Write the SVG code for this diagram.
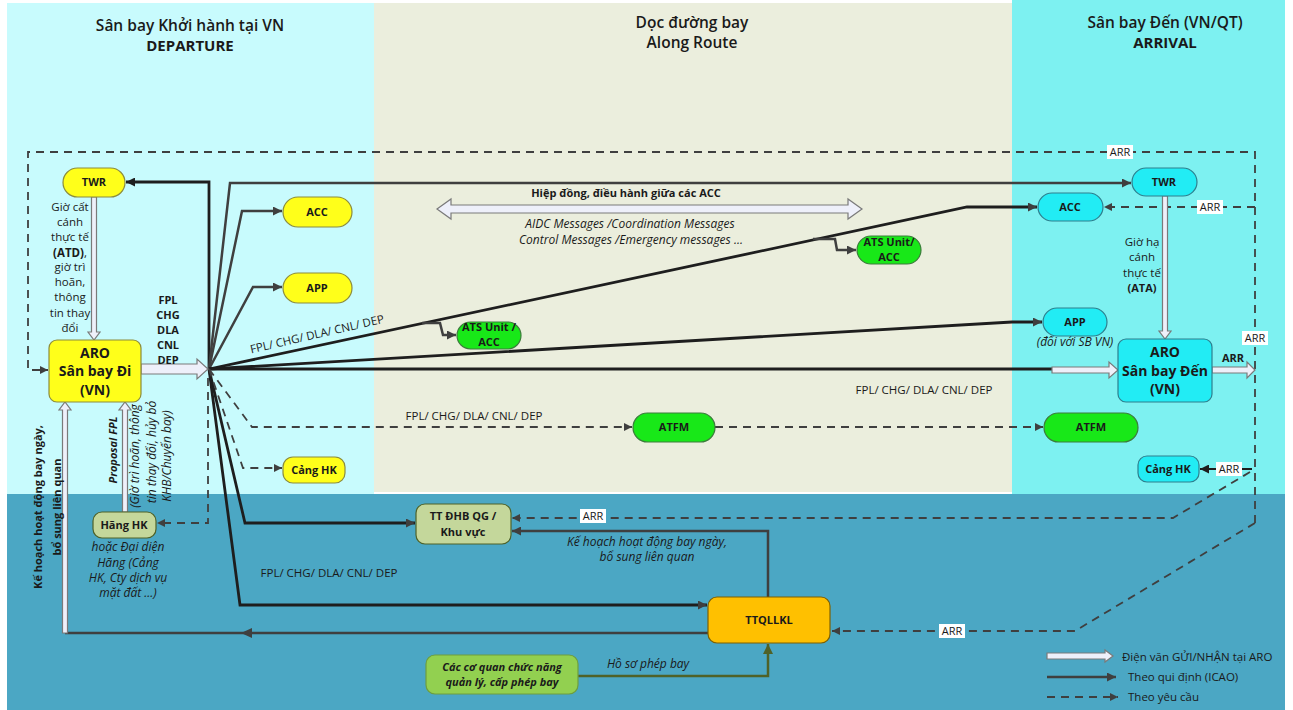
<svg xmlns="http://www.w3.org/2000/svg" width="1293" height="710" viewBox="0 0 1293 710">
<defs>
<style>
text{font-family:"Open Sans","Noto Sans","DejaVu Sans",sans-serif;fill:#1a1a1a}
.h{font-size:15.5px;font-weight:600;text-anchor:middle}
.hb{font-size:15px;font-weight:700;text-anchor:middle}
.nt{font-size:11px;font-weight:700;text-anchor:middle}
.big{font-size:14px;font-weight:700;text-anchor:middle}
.lbl{font-size:11.5px;text-anchor:middle}
.it{font-size:12px;font-style:italic;text-anchor:middle}
.arr{font-size:11px;text-anchor:middle}
.y{fill:#FFFF1A;stroke:#8C8C3C;stroke-width:1.2}
.c{fill:#22ECF4;stroke:#2E7F8E;stroke-width:1.2}
.gr{fill:#18E818;stroke:#3C7C3C;stroke-width:1.2}
.ol{fill:#C4D79B;stroke:#4F6228;stroke-width:1.2}
.s{fill:none;stroke:#1e1e1e;stroke-width:2.8}
.g{fill:none;stroke:#3f3f3f;stroke-width:2.5}
.d{fill:none;stroke:#3f3f3f;stroke-width:1.8;stroke-dasharray:8 6}
.ho{fill:#EEF0FA;stroke:#7a7a7a;stroke-width:1.2}
.wb{fill:#ffffff}
</style>
<marker id="ab" viewBox="0 0 10 10" refX="10" refY="5" markerWidth="10" markerHeight="9" markerUnits="userSpaceOnUse" orient="auto"><path d="M0,0 L10,5 L0,10 z" fill="#1e1e1e"/></marker>
<marker id="ag" viewBox="0 0 10 10" refX="10" refY="5" markerWidth="10" markerHeight="9" markerUnits="userSpaceOnUse" orient="auto"><path d="M0,0 L10,5 L0,10 z" fill="#3f3f3f"/></marker>
<marker id="ad" viewBox="0 0 10 10" refX="10" refY="5" markerWidth="9" markerHeight="8" markerUnits="userSpaceOnUse" orient="auto"><path d="M0,0 L10,5 L0,10 z" fill="#3f3f3f"/></marker>
<marker id="agr" viewBox="0 0 10 10" refX="10" refY="5" markerWidth="10" markerHeight="10" markerUnits="userSpaceOnUse" orient="auto"><path d="M0,0 L10,5 L0,10 z" fill="#4F6228"/></marker>
</defs>

<g id="background">
<rect x="7" y="3" width="367" height="491" fill="#C8FBFD"/>
<rect x="374" y="3" width="638" height="489" fill="#EBEEDD"/>
<rect x="1012" y="0" width="273" height="494" fill="#7DF1F1"/>
<rect x="7" y="494" width="1278" height="216" fill="#4BA7C4"/>
<text class="h" x="190" y="31">Sân bay Khởi hành tại VN</text>
<text class="hb" x="190" y="51">DEPARTURE</text>
<text class="h" x="692" y="28">Dọc đường bay</text>
<text class="h" x="692" y="48">Along Route</text>
<text class="h" x="1165" y="28">Sân bay Đến (VN/QT)</text>
<text class="hb" x="1165" y="48">ARRIVAL</text>
</g>

<g id="connectors">
<!-- hub fan, solid -->
<path class="s" d="M209,369 V182 H126" marker-end="url(#ab)"/>
<path class="g" d="M209,369 L230,183 H1131" marker-end="url(#ag)"/>
<path class="g" d="M209,369 L242,211 H282" marker-end="url(#ag)"/>
<path class="g" d="M209,369 L253,287 H282" marker-end="url(#ag)"/>
<path class="s" d="M209,369 L967,207 H1037" marker-end="url(#ag)"/>
<path class="g" d="M422,323 H440 L443,335 H456" marker-end="url(#ag)"/>
<path class="g" d="M813,239 H835 L837,250 H856" marker-end="url(#ag)"/>
<path class="s" d="M209,369 L1012,322 H1042" marker-end="url(#ag)"/>
<path class="s" d="M209,369 H1053"/>
<path class="s" d="M209,369 L245,523 H415" marker-end="url(#ag)"/>
<path class="s" d="M209,369 L240,605 H707" marker-end="url(#ag)"/>
<!-- hub fan, dashed -->
<path class="d" d="M209,369 L252,427 H632" marker-end="url(#ad)"/>
<path class="d" d="M715,427 H1043" marker-end="url(#ad)"/>
<path class="d" d="M209,369 L243,468 H282" marker-end="url(#ad)"/>
<path class="d" d="M208,378 V523 H157" marker-end="url(#ad)"/>
<!-- bottom flows -->
<path class="g" d="M708,633 H65"/>
<path d="M241,633 L252,628 L252,638 z" fill="#3f3f3f"/>
<path class="g" d="M768,597 V531 H512" marker-end="url(#ag)"/>
<path fill="none" stroke="#4F6228" stroke-width="2.5" d="M578,676 H768 V644" marker-end="url(#agr)"/>
<!-- ARR dashed network -->
<path class="d" d="M1255,523 V152 H28 V370 H48" marker-end="url(#ad)"/>
<path class="d" d="M1255,207 H1104" marker-end="url(#ad)"/>
<path class="d" d="M1255,523 L1075,631 H832" marker-end="url(#ad)"/>
<path fill="none" stroke="#1e1e1e" stroke-width="1.8" d="M1252,469 H1200" marker-end="url(#ab)"/>
<path class="d" d="M1250,472 L1173,518 H512" marker-end="url(#ad)"/>
<!-- hollow arrows -->
<path class="ho" d="M141,364 H197 V359 L208,369 L197,379 V374 H141 z"/>
<path class="ho" d="M91.5,197 H96.5 V332 H100 L94,340 L88,332 H91.5 z"/>
<path class="ho" d="M122.5,512 H127.5 V410 H131 L125,402 L119,410 H122.5 z"/>
<path class="ho" d="M62.5,633 H67.5 V410 H71 L65,402 L59,410 H62.5 z"/>
<path class="ho" d="M1162.5,196 H1167.5 V331 H1171 L1165,339 L1159,331 H1162.5 z"/>
<path class="ho" d="M1052,367 H1109 V362 L1118,370 L1109,378 V373 H1052 z"/>
<path class="ho" d="M1212,367 H1247 V362 L1255,370 L1247,378 V373 H1212 z"/>
<path class="ho" d="M437,209 L451,199 V205 H848 V199 L862,209 L848,219 V213 H451 V219 z"/>
<!-- ARR labels -->
<rect class="wb" x="1107" y="145" width="26" height="14"/><text class="arr" x="1120" y="156">ARR</text>
<rect class="wb" x="1197" y="200" width="26" height="14"/><text class="arr" x="1210" y="211">ARR</text>
<rect class="wb" x="1242" y="331" width="26" height="14"/><text class="arr" x="1255" y="342">ARR</text>
<rect class="wb" x="1216" y="462" width="26" height="14"/><text class="arr" x="1229" y="473">ARR</text>
<rect class="wb" x="580" y="509" width="26" height="14"/><text class="arr" x="593" y="520">ARR</text>
<rect class="wb" x="939" y="624" width="26" height="14"/><text class="arr" x="952" y="635">ARR</text>
<text class="nt" x="1233" y="362">ARR</text>
<!-- connector labels -->
<text class="nt" x="168" y="304">FPL</text>
<text class="nt" x="168" y="319">CHG</text>
<text class="nt" x="168" y="334">DLA</text>
<text class="nt" x="168" y="349">CNL</text>
<text class="nt" x="168" y="364">DEP</text>
<text class="lbl" x="70" y="211">Giờ cất</text>
<text class="lbl" x="70" y="226">cánh</text>
<text class="lbl" x="70" y="241">thực tế</text>
<text class="lbl" x="70" y="257"><tspan font-weight="700">(ATD)</tspan>,</text>
<text class="lbl" x="70" y="271">giờ trì</text>
<text class="lbl" x="70" y="286">hoãn,</text>
<text class="lbl" x="70" y="301">thông</text>
<text class="lbl" x="70" y="317">tin thay</text>
<text class="lbl" x="70" y="332">đổi</text>
<text class="lbl" x="1142" y="246">Giờ hạ</text>
<text class="lbl" x="1142" y="261">cánh</text>
<text class="lbl" x="1142" y="277">thực tế</text>
<text class="nt" font-size="11.5" x="1142" y="292">(ATA)</text>
<text class="lbl" font-size="12" transform="translate(318,338) rotate(-13)">FPL/ CHG/ DLA/ CNL/ DEP</text>
<text class="lbl" font-size="12" x="474" y="420">FPL/ CHG/ DLA/ CNL/ DEP</text>
<text class="lbl" font-size="12" x="329" y="577">FPL/ CHG/ DLA/ CNL/ DEP</text>
<text class="lbl" font-size="12" x="924" y="394">FPL/ CHG/ DLA/ CNL/ DEP</text>
<text class="nt" x="626" y="197">Hiệp đồng, điều hành giữa các ACC</text>
<text class="it" font-size="13" x="630" y="228">AIDC Messages /Coordination Messages</text>
<text class="it" font-size="13" x="631" y="244">Control Messages /Emergency messages ...</text>
<text class="it" font-size="9.5" x="1075" y="346">(đối với SB VN)</text>
<text class="it" x="647" y="546">Kế hoạch hoạt động bay ngày,</text>
<text class="it" x="647" y="561">bổ sung liên quan</text>
<text class="it" x="648" y="668">Hồ sơ phép bay</text>
<text class="nt" font-size="10.5" transform="translate(42,507) rotate(-90)">Kế hoạch hoạt động bay ngày,</text>
<text class="nt" font-size="10.5" transform="translate(61,507) rotate(-90)">bổ sung liên quan</text>
<text class="nt" font-size="10.5" font-style="italic" transform="translate(117,450) rotate(-90)">Proposal FPL</text>
<text class="it" font-size="11" transform="translate(139,456) rotate(-90)">(Giờ trì hoãn, thông</text>
<text class="it" font-size="11" transform="translate(156,452) rotate(-90)">tin thay đổi, hủy bỏ</text>
<text class="it" font-size="11" transform="translate(171,456) rotate(-90)">KHB/Chuyến bay)</text>
<text class="it" x="128" y="551">hoặc Đại diện</text>
<text class="it" x="128" y="567">Hãng (Cảng</text>
<text class="it" x="128" y="582">HK, Cty dịch vụ</text>
<text class="it" x="128" y="597">mặt đất ...)</text>
</g>

<g id="n-twr-dep"><rect class="y" x="63" y="168" width="62" height="29" rx="14.5"/><text class="nt" x="94" y="186">TWR</text></g>
<g id="n-acc-dep"><rect class="y" x="283" y="197" width="69" height="30" rx="15"/><text class="nt" x="317" y="216">ACC</text></g>
<g id="n-app-dep"><rect class="y" x="283" y="273" width="69" height="30" rx="15"/><text class="nt" x="317" y="292">APP</text></g>
<g id="n-cang-dep"><rect class="y" x="283" y="457" width="62" height="26" rx="10"/><text class="nt" x="314" y="474">Cảng HK</text></g>
<g id="n-aro-dep"><rect class="y" x="49" y="340" width="92" height="62" rx="8"/><text class="big" x="95" y="358">ARO</text><text class="big" x="95" y="376">Sân bay Đi</text><text class="big" x="95" y="395">(VN)</text></g>
<g id="n-hang"><rect class="ol" x="93" y="512" width="63" height="26" rx="9"/><text class="nt" x="124" y="529">Hãng HK</text></g>
<g id="n-ttdhb"><rect class="ol" x="416" y="504" width="95" height="40" rx="9"/><text class="nt" font-size="12" x="463" y="520">TT ĐHB QG /</text><text class="nt" font-size="12" x="463" y="536">Khu vực</text></g>
<g id="n-ttqllkl"><rect x="708" y="597" width="122" height="46" rx="9" fill="#FFC000" stroke="#7F6000" stroke-width="1.2"/><text class="nt" x="769" y="624">TTQLLKL</text></g>
<g id="n-coquan"><rect x="426" y="655" width="152" height="39" rx="9" fill="#92D050" stroke="#6E9E3E" stroke-width="1.2"/><text class="nt" font-size="11.5" font-style="italic" x="502" y="671">Các cơ quan chức năng</text><text class="nt" font-size="11.5" font-style="italic" x="502" y="686">quản lý, cấp phép bay</text></g>
<g id="n-ats1"><rect class="gr" x="457" y="322" width="64" height="27" rx="13.5"/><text class="nt" x="489" y="331">ATS Unit /</text><text class="nt" x="489" y="346">ACC</text></g>
<g id="n-ats2"><rect class="gr" x="857" y="236" width="64" height="28" rx="14"/><text class="nt" x="889" y="246">ATS Unit/</text><text class="nt" x="889" y="261">ACC</text></g>
<g id="n-atfm1"><rect class="gr" x="633" y="413" width="82" height="29" rx="14.5"/><text class="nt" x="674" y="431">ATFM</text></g>
<g id="n-atfm2"><rect class="gr" x="1044" y="413" width="94" height="29" rx="14.5"/><text class="nt" x="1091" y="431">ATFM</text></g>
<g id="n-twr-arr"><rect class="c" x="1132" y="168" width="65" height="28" rx="14"/><text class="nt" x="1164" y="186">TWR</text></g>
<g id="n-acc-arr"><rect class="c" x="1038" y="193" width="65" height="28" rx="14"/><text class="nt" x="1070" y="211">ACC</text></g>
<g id="n-app-arr"><rect class="c" x="1043" y="308" width="64" height="28" rx="14"/><text class="nt" x="1075" y="326">APP</text></g>
<g id="n-aro-arr"><rect class="c" x="1118" y="339" width="94" height="63" rx="8"/><text class="big" x="1165" y="357">ARO</text><text class="big" x="1165" y="376">Sân bay Đến</text><text class="big" x="1165" y="394">(VN)</text></g>
<g id="n-cang-arr"><rect class="c" x="1138" y="456" width="61" height="26" rx="9"/><text class="nt" x="1168" y="473">Cảng HK</text></g>

<g id="legend">
<path class="ho" d="M1047,653 H1105 V650 L1113,656 L1105,662 V659 H1047 z"/>
<text class="lbl" font-size="12" style="text-anchor:start" x="1122" y="661">Điện văn GỬI/NHẬN tại ARO</text>
<path class="g" d="M1047,677 H1116" marker-end="url(#ag)"/>
<text class="lbl" font-size="12" style="text-anchor:start" x="1128" y="681">Theo qui định (ICAO)</text>
<path class="d" d="M1047,697 H1118" marker-end="url(#ad)"/>
<text class="lbl" font-size="12" style="text-anchor:start" x="1128" y="701">Theo yêu cầu</text>
</g>
</svg>
